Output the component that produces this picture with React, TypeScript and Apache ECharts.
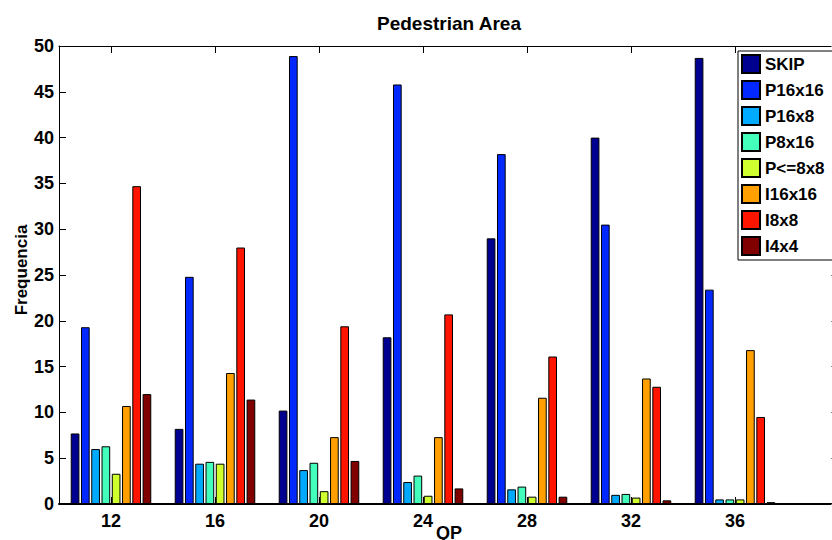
import React, { useEffect, useRef } from "react";
import * as echarts from "echarts";

const QP = [12, 16, 20, 24, 28, 32, 36];
const SERIES_NAMES = ["SKIP", "P16x16", "P16x8", "P8x16", "P<=8x8", "I16x16", "I8x8", "I4x4"];
const SKIP = [7.7, 8.2, 10.2, 18.2, 29.0, 40.0, 48.7];
const P16x16 = [19.3, 24.8, 48.9, 45.8, 38.2, 30.5, 23.4];
const P16x8 = [6.0, 4.4, 3.7, 2.4, 1.6, 1.0, 0.5];
const P8x16 = [6.3, 4.6, 4.5, 3.1, 1.9, 1.1, 0.5];
const P8x8 = [3.3, 4.4, 1.4, 0.9, 0.8, 0.7, 0.5];
const I16x16 = [10.7, 14.3, 7.3, 7.3, 11.6, 13.7, 16.8];
const I8x8 = [34.7, 28.0, 19.4, 20.7, 16.1, 12.8, 9.5];
const I4x4 = [12.0, 11.4, 4.7, 1.7, 0.8, 0.4, 0.2];
const VALUES = [SKIP, P16x16, P16x8, P8x16, P8x8, I16x16, I8x8, I4x4];
const COLORS = ["#000090", "#0028FF", "#00AAFF", "#44FFBB", "#D0FF30", "#FFA000", "#FF1400", "#800000"];

const FONT = "'Liberation Sans', Arial, Helvetica, sans-serif";

export default function App() {
  const ref = useRef<HTMLDivElement>(null);
  useEffect(() => {
    const chart = echarts.init(ref.current!, null, { renderer: "svg" });
    const option: any = {
      animation: false,
      backgroundColor: "#ffffff",
      textStyle: { fontFamily: FONT },
      graphic: [
        {
          type: "text",
          x: 449,
          y: 14,
          style: {
            text: "Pedestrian Area",
            textAlign: "center",
            textVerticalAlign: "top",
            font: `bold 19px ${FONT}`,
            fill: "#000",
          },
        },
        {
          type: "text",
          x: 449,
          y: 524,
          style: {
            text: "QP",
            textAlign: "center",
            textVerticalAlign: "top",
            font: `bold 18px ${FONT}`,
            fill: "#000",
          },
        },
        {
          type: "text",
          x: 21,
          y: 270,
          rotation: Math.PI / 2,
          style: {
            text: "Frequencia",
            textAlign: "center",
            textVerticalAlign: "middle",
            font: `bold 17px ${FONT}`,
            fill: "#000",
          },
        },
      ],
      grid: { left: 59, top: 46, width: 780, height: 458, outerBoundsMode: "none", containLabel: false },
      legend: {
        orient: "vertical",
        left: 738,
        top: 51,
        data: SERIES_NAMES,
        icon: "rect",
        itemWidth: 18,
        itemHeight: 18,
        itemGap: 6,
        padding: [3, 20, 4, 3],
        borderColor: "#000",
        borderWidth: 1,
        backgroundColor: "#fff",
        textStyle: { fontFamily: FONT, fontWeight: "bold", fontSize: 17, color: "#000", lineHeight: 18 },
      },
      xAxis: [
        {
          type: "value",
          min: 10,
          max: 40,
          position: "bottom",
          axisLine: { show: true, onZero: false, lineStyle: { color: "#000", width: 2 } },
          axisTick: { show: true, inside: true, length: 7, customValues: QP, lineStyle: { color: "#000" } },
          axisLabel: {
            customValues: QP,
            fontFamily: FONT,
            fontWeight: "bold",
            fontSize: 18,
            color: "#000",
            margin: 8,
          },
          splitLine: { show: false },
        },
        {
          type: "value",
          min: 10,
          max: 40,
          position: "top",
          axisLine: { show: true, onZero: false, lineStyle: { color: "#000", width: 1 } },
          axisTick: { show: true, inside: true, length: 7, customValues: QP, lineStyle: { color: "#000" } },
          axisLabel: { show: false },
          splitLine: { show: false },
        },
      ],
      yAxis: [
        {
          type: "value",
          min: 0,
          max: 50,
          interval: 5,
          position: "left",
          axisLine: { show: true, onZero: false, lineStyle: { color: "#000", width: 1 } },
          axisTick: { show: true, inside: true, length: 7, lineStyle: { color: "#000" } },
          axisLabel: { fontFamily: FONT, fontWeight: "bold", fontSize: 18, color: "#000", margin: 5 },
          splitLine: { show: false },
        },
        {
          type: "value",
          min: 0,
          max: 50,
          interval: 5,
          position: "right",
          axisLine: { show: true, onZero: false, lineStyle: { color: "#000", width: 1 } },
          axisTick: { show: true, inside: true, length: 8, lineStyle: { color: "#888" } },
          axisLabel: { show: false },
          splitLine: { show: false },
        },
      ],
      series: SERIES_NAMES.map((name, si) => ({
        name,
        type: "bar",
        xAxisIndex: 0,
        yAxisIndex: 0,
        barWidth: 8.7,
        barGap: "18%",
        itemStyle: { color: COLORS[si], borderColor: "#000", borderWidth: 1 },
        data: QP.map((q, i) => [q, VALUES[si][i]]),
      })),
    };
    chart.setOption(option);
    return () => chart.dispose();
  }, []);
  return (
    <div
      ref={ref}
      style={{ position: "fixed", left: 0, top: 0, width: 832, height: 540, background: "#fff" }}
    />
  );
}
